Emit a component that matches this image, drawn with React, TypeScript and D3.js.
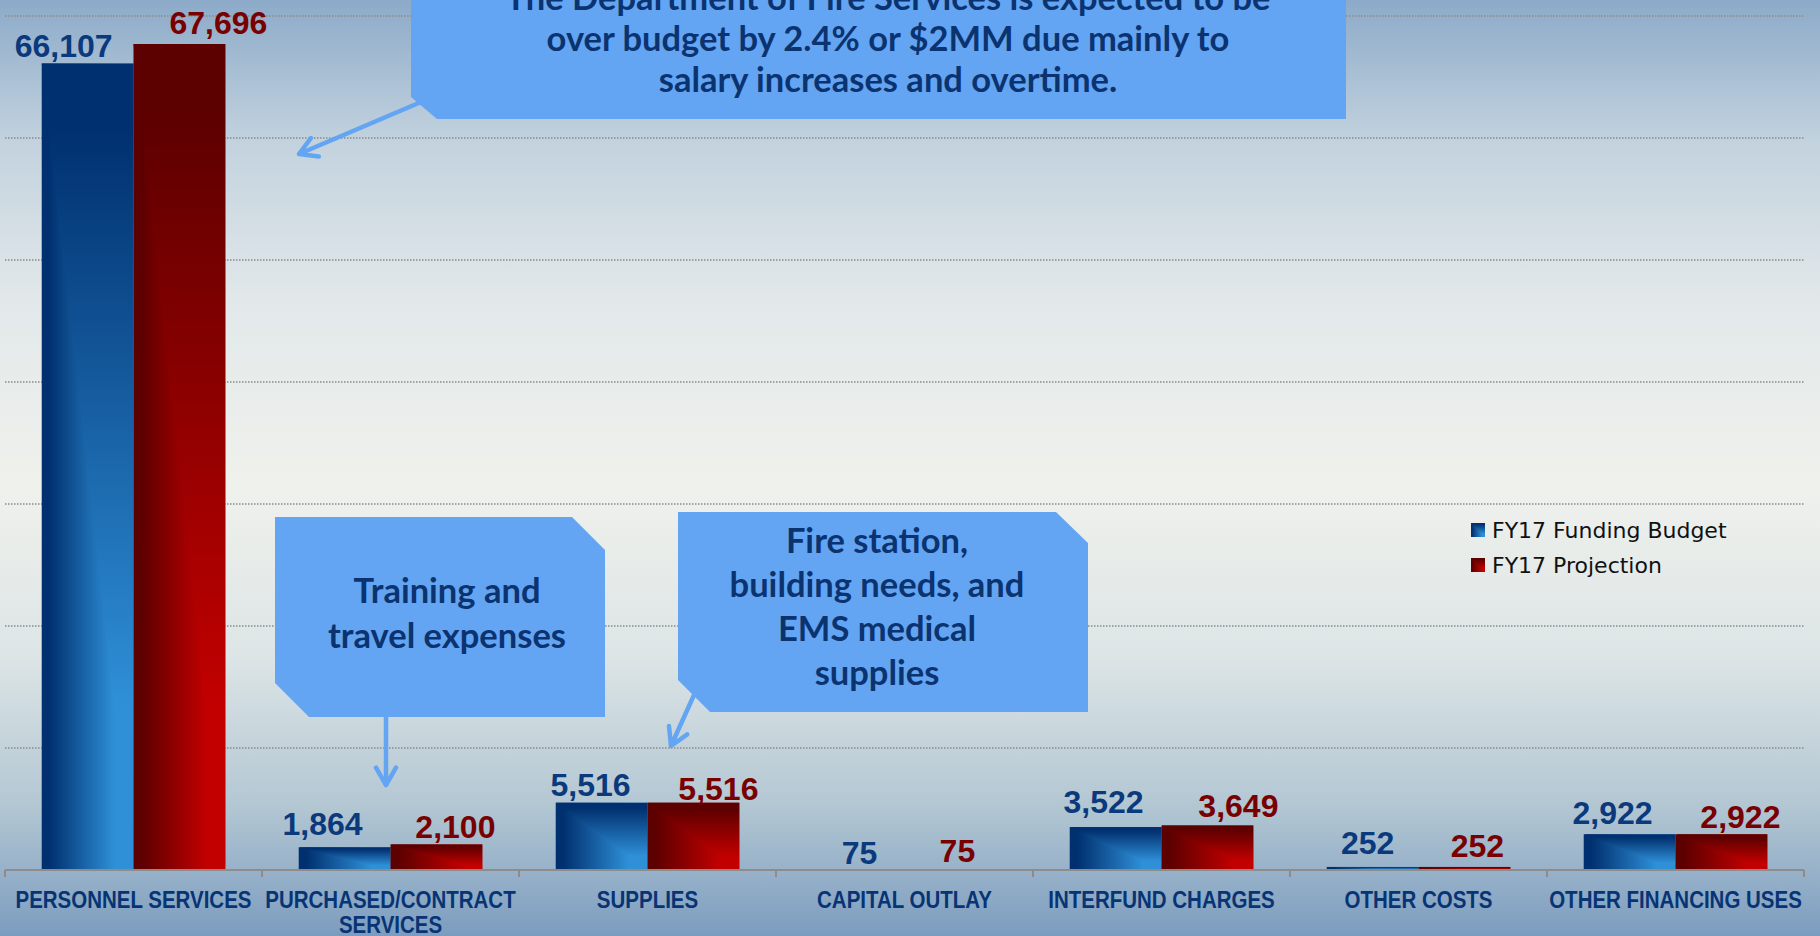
import React from "react";
import * as d3 from "d3";

const WIDTH = 1820;
const HEIGHT = 936;

const CATEGORIES = [
  "PERSONNEL SERVICES",
  "PURCHASED/CONTRACT SERVICES",
  "SUPPLIES",
  "CAPITAL OUTLAY",
  "INTERFUND CHARGES",
  "OTHER COSTS",
  "OTHER FINANCING USES",
];
// how the axis labels wrap
const CATEGORY_LINES = [
  ["PERSONNEL SERVICES"],
  ["PURCHASED/CONTRACT", "SERVICES"],
  ["SUPPLIES"],
  ["CAPITAL OUTLAY"],
  ["INTERFUND CHARGES"],
  ["OTHER COSTS"],
  ["OTHER FINANCING USES"],
];

const SERIES = ["FY17 Funding Budget", "FY17 Projection"];
const BUDGET = [66107, 1864, 5516, 75, 3522, 252, 2922];
const PROJECTION = [67696, 2100, 5516, 75, 3649, 252, 2922];

// hand-placed data labels in the original (x nudge, gap above bar)
const BUDGET_LABEL_NUDGE = [[-24, 6], [-22, 12], [-11, 7], [1, 5], [-12, 14], [-5, 13], [-17, 10]];
const PROJECTION_LABEL_NUDGE = [[39, 10], [19, 6], [25, 3], [7, 7], [31, 8], [13, 10], [19, 6]];

const CALLOUT_MAIN = [
  "The Department of Fire Services is expected to be",
  "over budget by 2.4% or $2MM due mainly to",
  "salary increases and overtime.",
];
const CALLOUT_TRAINING = ["Training and", "travel expenses"];
const CALLOUT_SUPPLIES = ["Fire station,", "building needs, and", "EMS medical", "supplies"];

const COLORS = {
  budget: { dark: "#00306f", light: "#2f90d8", label: "#0a3a7c" },
  projection: { dark: "#5c0000", light: "#c20000", label: "#780000" },
};
const CALLOUT_FILL = "#63a5f2";
const CALLOUT_TEXT = "#0b3370";
const CAT_TEXT = "#073474";

const X0 = 5;
const X1 = 1804;
const BASE = 870;
const TOP = 16;

const fmt = d3.format(",");

// open V arrow head, pointing from (x1,y1) to (x2,y2)
function arrowPath(x1: number, y1: number, x2: number, y2: number, len = 20) {
  const a = Math.atan2(y2 - y1, x2 - x1);
  const s = Math.PI / 6;
  const ax = x2 - len * Math.cos(a - s);
  const ay = y2 - len * Math.sin(a - s);
  const bx = x2 - len * Math.cos(a + s);
  const by = y2 - len * Math.sin(a + s);
  return `M${x1},${y1}L${x2},${y2}M${ax},${ay}L${x2},${y2}L${bx},${by}`;
}

// bar filled like PowerPoint's corner path gradient: colour = C(min(u, v))
const GradBar = ({ x, y, w, h, k }: { x: number; y: number; w: number; h: number; k: string }) => (
  <g>
    <rect x={x} y={y} width={w} height={h} fill={`url(#h-${k})`} />
    <polygon points={`${x},${y} ${x + w},${y} ${x + w},${y + h}`} fill={`url(#v-${k})`} />
  </g>
);

export default function App() {
  const xScale = d3.scaleBand<string>().domain(CATEGORIES).range([X0, X1]).padding(0);
  const sub = d3
    .scaleBand<string>()
    .domain(["budget", "projection"])
    .range([0, xScale.bandwidth()])
    .paddingInner(0)
    .paddingOuter(0.4);
  const yScale = d3.scaleLinear().domain([0, 70000]).range([BASE, TOP]);
  const grid = yScale.ticks(7).filter((t) => t > 0);

  const series = [
    { key: "budget", values: BUDGET, nudge: BUDGET_LABEL_NUDGE },
    { key: "projection", values: PROJECTION, nudge: PROJECTION_LABEL_NUDGE },
  ];

  const stopsFor = (c: { dark: string; light: string }) => (
    <>
      <stop offset="0" stopColor={c.dark} />
      <stop offset="0.08" stopColor={c.dark} />
      <stop offset="0.8" stopColor={c.light} />
      <stop offset="1" stopColor={c.light} />
    </>
  );

  const boundaries = [...CATEGORIES.map((c) => xScale(c)!), X1];

  return (
    <svg
      width={WIDTH}
      height={HEIGHT}
      style={{ position: "absolute", left: 0, top: 0, display: "block" }}
    >
      <defs>
        <linearGradient id="bg" x1="0" y1="0" x2="0" y2="1">
          <stop offset="0" stopColor="#8caac9" />
          <stop offset="0.15" stopColor="#c2d2de" />
          <stop offset="0.32" stopColor="#e2e8ea" />
          <stop offset="0.52" stopColor="#eff1ec" />
          <stop offset="0.7" stopColor="#dde5e6" />
          <stop offset="0.86" stopColor="#b3c7d3" />
          <stop offset="1" stopColor="#7c9cbf" />
        </linearGradient>
        {(["budget", "projection"] as const).map((k) => (
          <React.Fragment key={k}>
            <linearGradient id={`h-${k}`} x1="0" y1="0" x2="1" y2="0">
              {stopsFor(COLORS[k])}
            </linearGradient>
            <linearGradient id={`v-${k}`} x1="0" y1="0" x2="0" y2="1">
              {stopsFor(COLORS[k])}
            </linearGradient>
          </React.Fragment>
        ))}
      </defs>

      <rect width={WIDTH} height={HEIGHT} fill="url(#bg)" />

      {/* gridlines */}
      {grid.map((t) => (
        <line
          key={t}
          x1={X0}
          x2={X1}
          y1={yScale(t)}
          y2={yScale(t)}
          stroke="#8a8a8a"
          strokeWidth={1.5}
          strokeDasharray="1.5 1.5"
        />
      ))}

      {/* bars */}
      {series.map((s) =>
        s.values.map((v, i) => {
          const x = xScale(CATEGORIES[i])! + sub(s.key)!;
          const y = yScale(v);
          return (
            <GradBar key={s.key + i} x={x} y={y} w={sub.bandwidth()} h={BASE - y} k={s.key} />
          );
        })
      )}

      {/* axis */}
      <line x1={X0} x2={X1} y1={BASE} y2={BASE} stroke="#8c8c8c" strokeWidth={2} />
      {boundaries.map((bx, i) => (
        <line key={i} x1={bx} x2={bx} y1={BASE} y2={BASE + 7} stroke="#8c8c8c" strokeWidth={2} />
      ))}

      {/* category labels, narrow bold */}
      {CATEGORIES.map((c, i) => (
        <g key={c} transform={`translate(${xScale(c)! + xScale.bandwidth() / 2}, 908) scale(0.84, 1)`}>
          {CATEGORY_LINES[i].map((line, j) => (
            <text
              key={j}
              x={0}
              y={j * 25.5}
              textAnchor="middle"
              fill={CAT_TEXT}
              fontFamily="'Liberation Sans', Arial, sans-serif"
              fontWeight="bold"
              fontSize={24.4}
            >
              {line}
            </text>
          ))}
        </g>
      ))}

      {/* value labels */}
      {series.map((s) =>
        s.values.map((v, i) => {
          const cx = xScale(CATEGORIES[i])! + sub(s.key)! + sub.bandwidth() / 2;
          const [dx, gap] = s.nudge[i];
          return (
            <text
              key={"l" + s.key + i}
              x={cx + dx}
              y={yScale(v) - gap}
              textAnchor="middle"
              fill={COLORS[s.key as "budget" | "projection"].label}
              fontFamily="'Liberation Sans', Arial, sans-serif"
              fontWeight="bold"
              fontSize={32}
            >
              {fmt(v)}
            </text>
          );
        })
      )}

      {/* legend */}
      {SERIES.map((name, i) => {
        const k = i === 0 ? "budget" : "projection";
        return (
          <g key={name} transform={`translate(1471, ${523 + i * 35})`}>
            <GradBar x={0} y={0} w={14} h={14} k={k} />
            <text x={21} y={15} fontFamily="'DejaVu Sans', sans-serif" fontSize={22} fill="#111">
              {name}
            </text>
          </g>
        );
      })}

      {/* callouts */}
      <g fill={CALLOUT_FILL} stroke="none">
        <path d="M411,-5L1346,-5L1346,119L437,119L411,97Z" />
        <path d="M275,517L572,517L605,550L605,717L309,717L275,683Z" />
        <path d="M678,512L1056,512L1088,543L1088,712L710,712L678,680Z" />
      </g>
      <g fill="none" stroke={CALLOUT_FILL} strokeWidth={4.5} strokeLinecap="round" strokeLinejoin="round">
        <path d={arrowPath(421, 102, 299, 154)} />
        <path d={arrowPath(386, 717, 386, 785)} />
        <path d={arrowPath(694, 695, 671, 746)} />
      </g>

      <g fill={CALLOUT_TEXT} fontFamily="Lato, sans-serif" fontWeight="bold" textAnchor="middle">
        {CALLOUT_MAIN.map((t, i) => (
          <text key={t} x={888} y={10 + i * 41} fontSize={34.5}>
            {t}
          </text>
        ))}
        {CALLOUT_TRAINING.map((t, i) => (
          <text key={t} x={447} y={603 + i * 45} fontSize={34.5}>
            {t}
          </text>
        ))}
        {CALLOUT_SUPPLIES.map((t, i) => (
          <text key={t} x={877} y={553 + i * 44} fontSize={34.5}>
            {t}
          </text>
        ))}
      </g>
    </svg>
  );
}
